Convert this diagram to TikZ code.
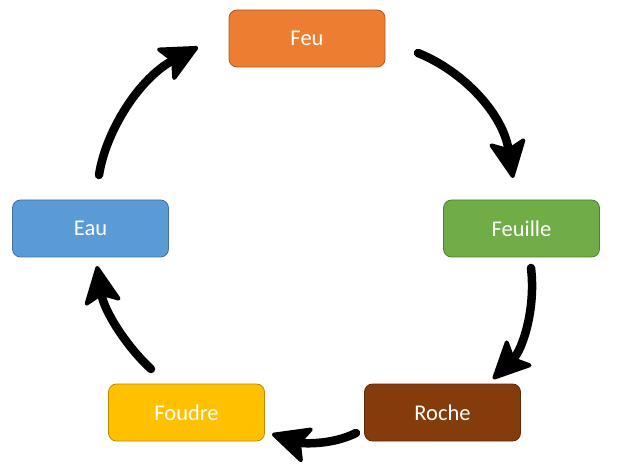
\documentclass[tikz,border=0pt]{standalone}
\usepackage{fontspec}
\setmainfont{Carlito}
\usetikzlibrary{arrows.meta}
\definecolor{feuF}{HTML}{ED7D31}\definecolor{feuD}{HTML}{AE5A21}
\definecolor{feuilleF}{HTML}{70AD47}\definecolor{feuilleD}{HTML}{507E32}
\definecolor{rocheF}{HTML}{843C0C}\definecolor{rocheD}{HTML}{5E2A08}
\definecolor{foudreF}{HTML}{FFC000}\definecolor{foudreD}{HTML}{BC8C00}
\definecolor{eauF}{HTML}{5B9BD5}\definecolor{eauD}{HTML}{41719C}
\tikzset{
  box/.style={draw, line width=0.8pt, rounded corners=8pt, minimum width=156pt, minimum height=57pt, text=white, font=\fontsize{22.5}{26}\selectfont, inner sep=0pt},
  cyc/.style={line width=8.5pt, line cap=round, -{Stealth[length=42pt,width=40pt,inset=9pt,round,line width=4pt]}}
}
\begin{document}
\begin{tikzpicture}[x=1pt,y=-1pt]
\useasboundingbox (0,0) rectangle (619,473);
\node[box, fill=feuF, draw=feuD] (feu) at (307,38.5) {Feu};
\node[box, fill=feuilleF, draw=feuilleD] (feuille) at (521.5,228.5) {Feuille};
\node[box, fill=rocheF, draw=rocheD] (roche) at (442.5,412.5) {Roche};
\node[box, fill=foudreF, draw=foudreD] (foudre) at (186.5,412.5) {Foudre};
\node[box, fill=eauF, draw=eauD] (eau) at (90.5,228.5) {Eau};
\coordinate (a1) at (418,53); \coordinate (b1) at (513,178);
\coordinate (a2) at (531,268); \coordinate (b2) at (493,379);
\coordinate (a3) at (356,433); \coordinate (b3) at (272,434);
\coordinate (a4) at (151,369); \coordinate (b4) at (97,266);
\coordinate (a5) at (99,175); \coordinate (b5) at (198,47);
\draw[cyc] (a1) .. controls (465,72) and (503,115) .. (b1);
\draw[cyc] (a2) .. controls (536,310) and (522,350) .. (b2);
\draw[cyc] (a3) .. controls (330,446) and (300,443) .. (b3);
\draw[cyc] (a4) .. controls (125,345) and (104,310) .. (b4);
\draw[cyc] (a5) .. controls (106,130) and (140,78) .. (b5);
\end{tikzpicture}
\end{document}
